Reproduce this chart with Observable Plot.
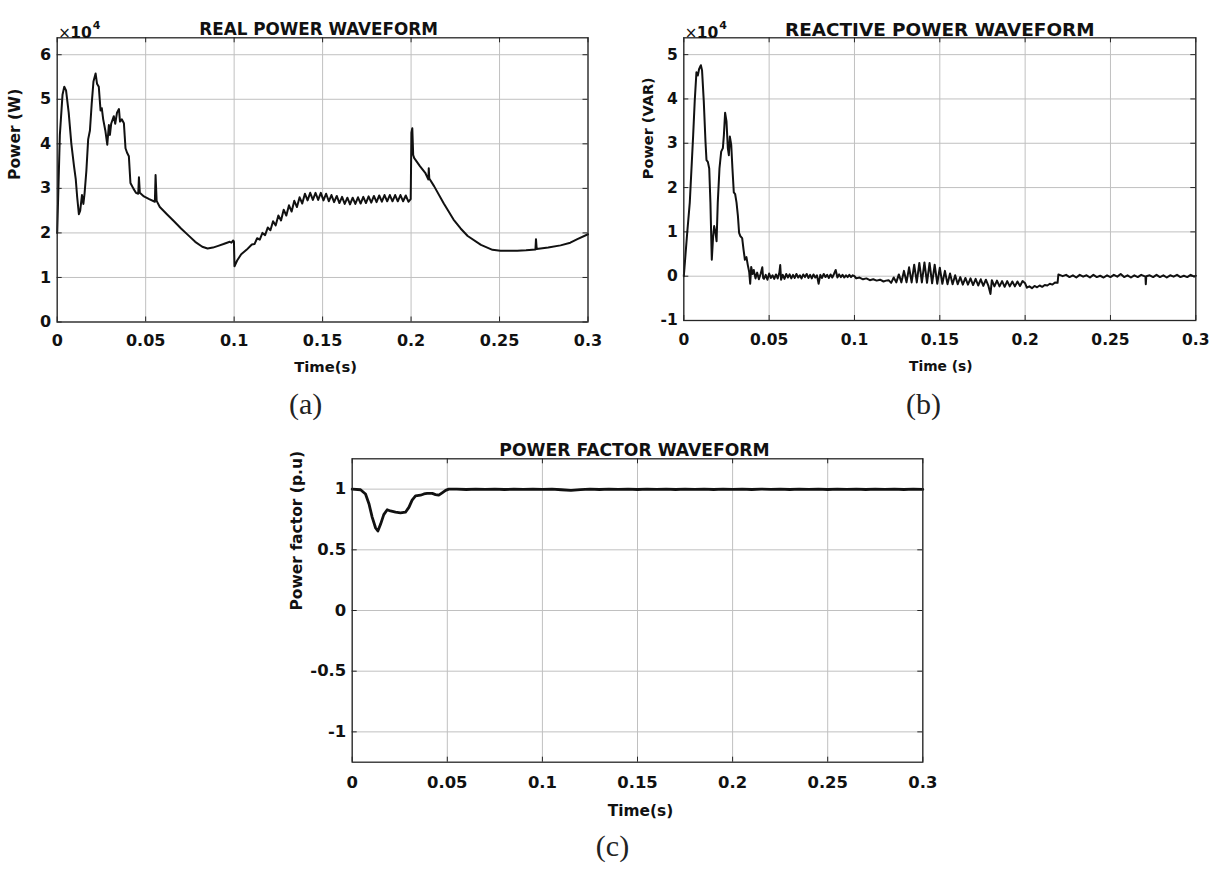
<!DOCTYPE html>
<html><head><meta charset="utf-8">
<script src="https://cdn.jsdelivr.net/npm/d3@7"></script>
<script src="https://cdn.jsdelivr.net/npm/@observablehq/plot@0.6"></script>
<style>
body{margin:0;background:#fff;}
#wrap{position:relative;width:1215px;height:873px;overflow:hidden;background:#fff;}
</style></head><body><div id="wrap"></div>
<script>
// ---------- data ----------
const timeTicks = [0, 0.05, 0.1, 0.15, 0.2, 0.25, 0.3];
const realTicks = [0, 1, 2, 3, 4, 5, 6];            // ×10^4 W
const reactiveTicks = [-1, 0, 1, 2, 3, 4, 5];       // ×10^4 VAR
const pfTicks = [-1, -0.5, 0, 0.5, 1];              // p.u.

// Real power (×10^4 W): [time s, value]
const realPowerStartup = [[0,2.0],[0.0015,4.2],[0.003,5.1],[0.004,5.28],[0.005,5.2],[0.0065,4.7],[0.008,4.0],[0.0095,3.5],[0.0105,3.2],[0.0113,2.8],[0.01225,2.42],[0.013,2.5],[0.014,2.85],[0.0148,2.65],[0.0155,2.9],[0.0165,3.4],[0.0175,4.1],[0.0185,4.3],[0.0195,4.9],[0.0205,5.4],[0.0217,5.58],[0.0225,5.35],[0.0235,5.28],[0.0245,4.75],[0.0252,4.8],[0.026,4.55],[0.0272,4.3],[0.0283,3.98],[0.0292,4.42],[0.0298,4.2],[0.0305,4.45],[0.032,4.62],[0.0328,4.45],[0.0338,4.7],[0.0349,4.78],[0.0355,4.5],[0.0365,4.55],[0.0377,4.46],[0.0386,3.9],[0.0395,3.8],[0.0405,3.72],[0.0414,3.12],[0.043,3.0],[0.0445,2.9],[0.0458,2.88],[0.0462,3.25],[0.0467,2.9],[0.049,2.82],[0.052,2.76],[0.0552,2.7],[0.0556,3.3],[0.0562,2.72],[0.058,2.58],[0.062,2.42],[0.066,2.26],[0.07,2.1],[0.074,1.95],[0.078,1.8],[0.082,1.69],[0.085,1.65],[0.088,1.67],[0.091,1.71],[0.094,1.75],[0.096,1.78],[0.0975,1.8],[0.0985,1.78],[0.0995,1.83],[0.0999,1.8],[0.1002,1.25],[0.1017,1.38],[0.104,1.52],[0.107,1.62]];
const realPowerRipple = [[0.11,1.74],[0.1115,1.75],[0.113,1.88],[0.1145,1.85],[0.116,2.0],[0.1175,1.95],[0.119,2.12],[0.1205,2.06],[0.122,2.26],[0.1235,2.17],[0.125,2.39],[0.1265,2.28],[0.128,2.52],[0.1295,2.39],[0.131,2.62],[0.1325,2.48],[0.134,2.72],[0.1355,2.58],[0.137,2.8],[0.1385,2.66],[0.14,2.88],[0.1415,2.73],[0.143,2.9],[0.1445,2.74],[0.146,2.9],[0.1475,2.74],[0.149,2.9],[0.1505,2.73],[0.152,2.88],[0.1535,2.71],[0.155,2.85],[0.1565,2.69],[0.158,2.83],[0.1595,2.67],[0.161,2.81],[0.1625,2.65],[0.164,2.79],[0.1655,2.64],[0.167,2.79],[0.1685,2.65],[0.17,2.8],[0.1715,2.66],[0.173,2.81],[0.1745,2.67],[0.176,2.82],[0.1775,2.68],[0.179,2.83],[0.1805,2.69],[0.182,2.84],[0.1835,2.7],[0.185,2.85],[0.1865,2.71],[0.188,2.85],[0.1895,2.71],[0.191,2.85],[0.1925,2.71],[0.194,2.85],[0.1955,2.71],[0.197,2.84],[0.1985,2.7],[0.1998,2.76]];
const realPowerStep = [[0.2002,4.25],[0.2007,4.35],[0.2012,3.75],[0.2018,3.68],[0.205,3.5],[0.208,3.35],[0.2098,3.2],[0.21,3.45],[0.2103,3.22],[0.213,3.05],[0.2185,2.66],[0.224,2.3],[0.228,2.1],[0.232,1.93],[0.2395,1.73],[0.246,1.62],[0.2505,1.6],[0.255,1.6],[0.26,1.6],[0.265,1.61],[0.2703,1.63],[0.2706,1.86],[0.271,1.64],[0.2775,1.67],[0.2845,1.72],[0.29,1.78],[0.294,1.86],[0.3,1.97]];

// Reactive power (×10^4 VAR): [time s, value]
const reactivePowerStartup = [[0,0],[0.002,0.98],[0.0035,1.66],[0.0055,3.19],[0.0064,3.95],[0.0074,4.6],[0.0082,4.53],[0.009,4.68],[0.01,4.76],[0.0107,4.64],[0.0117,3.95],[0.0127,3.04],[0.0133,2.62],[0.0141,2.58],[0.0149,2.43],[0.0156,1.66],[0.0164,0.37],[0.0172,0.9],[0.0178,1.13],[0.0186,0.98],[0.0192,0.79],[0.0199,1.66],[0.0209,2.43],[0.0219,2.81],[0.0229,2.89],[0.0235,3.19],[0.0242,3.69],[0.025,3.5],[0.0258,2.89],[0.0264,2.73],[0.027,3.15],[0.0278,2.96],[0.0285,2.43],[0.0293,1.89],[0.0301,1.85],[0.0309,1.66],[0.0317,1.36],[0.0324,0.98],[0.0332,0.9],[0.0342,0.86],[0.035,0.6],[0.0358,0.37],[0.0367,0.43],[0.0375,0.25],[0.0383,0.1],[0.0389,-0.17],[0.0395,0.21],[0.0403,0.05]];
const reactivePowerNoise = [[0.041,0.14],[0.042,-0.05],[0.043,0.08],[0.044,-0.07],[0.045,0.05],[0.046,0.2],[0.0465,-0.04],[0.047,-0.06],[0.048,0.03],[0.049,-0.08],[0.05,0.06],[0.051,-0.04],[0.052,0.02],[0.053,-0.06],[0.054,0.04],[0.055,-0.05],[0.056,0.08],[0.0565,0.25],[0.057,-0.08],[0.058,0.03],[0.059,-0.06],[0.06,0.05],[0.061,-0.03],[0.062,0.04],[0.063,-0.05],[0.064,0.03],[0.065,-0.04],[0.066,0.05],[0.067,-0.03],[0.068,0.02],[0.069,-0.05],[0.07,0.04],[0.071,-0.02],[0.072,0.05],[0.073,-0.04],[0.074,0.03],[0.075,-0.05],[0.076,0.04],[0.077,-0.03],[0.078,0.02],[0.079,-0.17],[0.08,0.03],[0.081,-0.04],[0.082,0.05],[0.083,-0.02],[0.084,0.03],[0.085,-0.04],[0.086,0.04],[0.087,-0.03],[0.088,0.05],[0.089,0.14],[0.09,-0.03],[0.091,0.04],[0.092,-0.02],[0.093,0.03],[0.094,-0.03],[0.095,0.02],[0.096,-0.02],[0.097,0.03],[0.098,-0.02],[0.099,0.02],[0.1,0.0],[0.101,-0.05],[0.103,-0.03],[0.105,-0.07],[0.107,-0.05],[0.109,-0.09],[0.111,-0.07],[0.113,-0.1],[0.115,-0.08],[0.117,-0.12],[0.1185,-0.1]];
const reactivePowerRipple = [[0.12,-0.09],[0.1215,-0.15],[0.123,-0.03],[0.1245,-0.14],[0.126,0.04],[0.1275,-0.14],[0.129,0.12],[0.1305,-0.14],[0.132,0.2],[0.1335,-0.14],[0.135,0.26],[0.1365,-0.14],[0.138,0.3],[0.1395,-0.14],[0.141,0.31],[0.1425,-0.15],[0.144,0.3],[0.1455,-0.16],[0.147,0.26],[0.1485,-0.17],[0.15,0.19],[0.1515,-0.17],[0.153,0.12],[0.1545,-0.18],[0.156,0.06],[0.1575,-0.18],[0.159,0.02],[0.1605,-0.18],[0.162,-0.02],[0.1635,-0.19],[0.165,-0.04],[0.1665,-0.19],[0.168,-0.05],[0.1695,-0.2],[0.171,-0.06],[0.1725,-0.21],[0.174,-0.07],[0.1755,-0.22],[0.177,-0.08],[0.1785,-0.22],[0.1797,-0.4],[0.1805,-0.09],[0.182,-0.23],[0.1835,-0.1],[0.185,-0.23],[0.1865,-0.11],[0.188,-0.24],[0.1895,-0.11],[0.191,-0.23],[0.1925,-0.12],[0.194,-0.23],[0.1955,-0.12],[0.197,-0.22],[0.1985,-0.11],[0.2,-0.16]];
const reactivePowerStep = [[0.201,-0.26],[0.2025,-0.23],[0.204,-0.27],[0.2055,-0.22],[0.207,-0.25],[0.2085,-0.21],[0.21,-0.24],[0.2115,-0.2],[0.213,-0.21],[0.2145,-0.17],[0.216,-0.19],[0.2175,-0.14],[0.219,-0.15],[0.2195,0.04],[0.222,0.0],[0.224,0.03],[0.226,-0.02],[0.228,0.02],[0.23,-0.03],[0.232,0.03],[0.234,-0.01],[0.236,0.02],[0.238,-0.03],[0.24,0.03],[0.242,-0.02],[0.244,0.01],[0.246,-0.03],[0.248,0.02],[0.25,-0.02],[0.252,0.03],[0.254,-0.01],[0.256,0.05],[0.258,-0.02],[0.26,0.02],[0.262,-0.03],[0.264,0.02],[0.266,-0.02],[0.268,0.03],[0.2705,-0.01],[0.2707,-0.18],[0.271,0.0],[0.273,0.02],[0.275,-0.02],[0.277,0.03],[0.279,-0.02],[0.281,0.02],[0.283,-0.03],[0.285,0.02],[0.287,-0.01],[0.289,0.03],[0.291,-0.02],[0.293,0.01],[0.295,-0.02],[0.297,0.03],[0.299,-0.01],[0.3,0.01]];

// Power factor (p.u.): [time s, value]
const powerFactorStartup = [[0,1.0],[0.0044,0.995],[0.007,0.96],[0.0088,0.88],[0.0105,0.77],[0.0123,0.68],[0.0135,0.655],[0.0149,0.71],[0.0166,0.79],[0.0184,0.83],[0.0201,0.82],[0.0228,0.81],[0.0254,0.805],[0.028,0.81],[0.0298,0.85],[0.0315,0.91],[0.0333,0.945],[0.0359,0.95],[0.0377,0.96],[0.0394,0.965],[0.0421,0.965],[0.0438,0.955],[0.0455,0.95],[0.0473,0.97],[0.0491,0.99],[0.0508,1.0]];
const powerFactorSteady = [[0.055,1.0],[0.06,0.997],[0.065,1.0],[0.07,0.998],[0.075,1.0],[0.08,0.997],[0.085,1.0],[0.09,0.998],[0.095,1.0],[0.1,0.998],[0.105,1.0],[0.11,0.995],[0.115,0.99],[0.12,0.996],[0.125,1.0],[0.13,0.997],[0.135,1.0],[0.14,0.998],[0.145,1.0],[0.15,0.997],[0.155,1.0],[0.16,0.998],[0.165,1.0],[0.17,0.997],[0.175,1.0],[0.18,0.998],[0.185,1.0],[0.19,0.997],[0.195,1.0],[0.2,0.998],[0.205,1.0],[0.21,0.997],[0.215,1.0],[0.22,0.998],[0.225,1.0],[0.23,0.997],[0.235,1.0],[0.24,0.998],[0.245,1.0],[0.25,0.997],[0.255,1.0],[0.26,0.998],[0.265,1.0],[0.27,0.997],[0.275,1.0],[0.28,0.998],[0.285,1.0],[0.29,0.997],[0.295,1.0],[0.3,0.998]];

const realPower = realPowerStartup.concat(realPowerRipple, realPowerStep);
const reactivePower = reactivePowerStartup.concat(reactivePowerNoise, reactivePowerRipple, reactivePowerStep);
const powerFactor = powerFactorStartup.concat(powerFactorSteady);

// ---------- drawing ----------
const FONT = "'DejaVu Sans', 'Liberation Sans', sans-serif";
function panel(o) {
  const W = o.width - o.ml - o.mr, H = o.height - o.mt - o.mb;
  const gridC = "#c0c0c0", axC = "#262626";
  const marks = [
    Plot.gridX(timeTicks, {stroke: gridC, strokeOpacity: 1, strokeWidth: 1}),
    Plot.gridY(o.yTicks, {stroke: gridC, strokeOpacity: 1, strokeWidth: 1}),
    Plot.gridX(timeTicks, {stroke: axC, strokeOpacity: 1, insetTop: H - 5}),
    Plot.gridX(timeTicks, {stroke: axC, strokeOpacity: 1, insetBottom: H - 5}),
    Plot.gridY(o.yTicks, {stroke: axC, strokeOpacity: 1, insetRight: W - 5}),
    Plot.gridY(o.yTicks, {stroke: axC, strokeOpacity: 1, insetLeft: W - 5}),
    Plot.line(o.data, {x: d => d[0], y: d => d[1], stroke: "#111", strokeWidth: o.lineWidth, strokeLinejoin: "round"}),
    Plot.frame({stroke: axC, strokeWidth: 1.3}),
    Plot.axisX(timeTicks, {tickSize: 0, tickPadding: o.xPad, tickFormat: d => String(d), label: null, fontSize: o.tickSize, fill: "#111"}),
    Plot.axisY(o.yTicks, {tickSize: 0, tickPadding: 6, tickFormat: d => String(d), label: null, fontSize: o.tickSize, fill: "#111"}),
    Plot.text([o.title], {text: d => d, frameAnchor: "top", dx: o.titleDx, dy: -15, fontSize: o.titleSize, fill: "#111"}),
    Plot.text([o.xLabel], {text: d => d, frameAnchor: "bottom", dx: o.xLabelDx, dy: o.xLabelDy, fontSize: o.xLabelSize, fill: "#111"}),
    Plot.text([o.yLabel], {text: d => d, frameAnchor: "left", rotate: -90, dx: o.yLabelDx, fontSize: o.yLabelSize, fill: "#111"}),
    Plot.text([o.caption], {text: d => d, frameAnchor: "bottom", dx: o.captionDx, dy: o.captionDy, fontSize: 30, fontWeight: "normal", fontFamily: "'Liberation Serif', serif", fill: "#222"})
  ];
  if (o.multiplier) {
    marks.push(
      Plot.text(["×"], {text: d => d, frameAnchor: "top-left", textAnchor: "start", dx: 1, dy: -10.5, fontSize: 15, fontWeight: "normal", fill: "#111"}),
      Plot.text(["10"], {text: d => d, frameAnchor: "top-left", textAnchor: "start", dx: 13, dy: -10.5, fontSize: 15.5, fill: "#111"}),
      Plot.text(["4"], {text: d => d, frameAnchor: "top-left", textAnchor: "start", dx: 35.5, dy: -16.5, fontSize: 11, fill: "#111"})
    );
  }
  const svg = Plot.plot({
    width: o.width, height: o.height,
    marginLeft: o.ml, marginRight: o.mr, marginTop: o.mt, marginBottom: o.mb,
    x: {domain: [0, 0.3]},
    y: {domain: o.yDomain},
    style: {position: "absolute", left: o.left + "px", top: o.top + "px", fontFamily: FONT, fontWeight: "bold", background: "transparent", maxWidth: "none", overflow: "visible"},
    marks
  });
  document.getElementById("wrap").appendChild(svg);
}

panel({
  left: 0, top: 0, width: 607, height: 430, ml: 56.7, mr: 19.5, mt: 37.3, mb: 108.5,
  yDomain: [0, 6.38], yTicks: realTicks, data: realPower, lineWidth: 2,
  tickSize: 16, xPad: 12.5,
  title: "REAL POWER WAVEFORM", titleSize: 16.8, titleDx: -4,
  xLabel: "Time(s)", xLabelSize: 14.8, xLabelDx: 3, xLabelDy: 50.2,
  yLabel: "Power (W)", yLabelSize: 15.5, yLabelDx: -41.7,
  caption: "(a)", captionDx: -17, captionDy: 92, multiplier: true
});
panel({
  left: 607, top: 0, width: 608, height: 430, ml: 76.3, mr: 19.7, mt: 37.3, mb: 110,
  yDomain: [-1, 5.38], yTicks: reactiveTicks, data: reactivePower, lineWidth: 2,
  tickSize: 15.5, xPad: 13.4,
  title: "REACTIVE POWER WAVEFORM", titleSize: 18.4, titleDx: 0,
  xLabel: "Time (s)", xLabelSize: 13.8, xLabelDx: 1, xLabelDy: 50.7,
  yLabel: "Power (VAR)", yLabelSize: 14.5, yLabelDx: -35.3,
  caption: "(b)", captionDx: -16.3, captionDy: 93.5, multiplier: true
});
panel({
  left: 0, top: 430, width: 1215, height: 443, ml: 351.7, mr: 292.7, mt: 28.3, mb: 111.3,
  yDomain: [-1.25, 1.25], yTicks: pfTicks, data: powerFactor, lineWidth: 2.8,
  tickSize: 16.4, xPad: 14,
  title: "POWER FACTOR WAVEFORM", titleSize: 17.2, titleDx: -3,
  xLabel: "Time(s)", xLabelSize: 15.4, xLabelDx: 3, xLabelDy: 53.3,
  yLabel: "Power factor (p.u)", yLabelSize: 15.5, yLabelDx: -55,
  caption: "(c)", captionDx: -25, captionDy: 93.5, multiplier: false
});
</script>
</body></html>
